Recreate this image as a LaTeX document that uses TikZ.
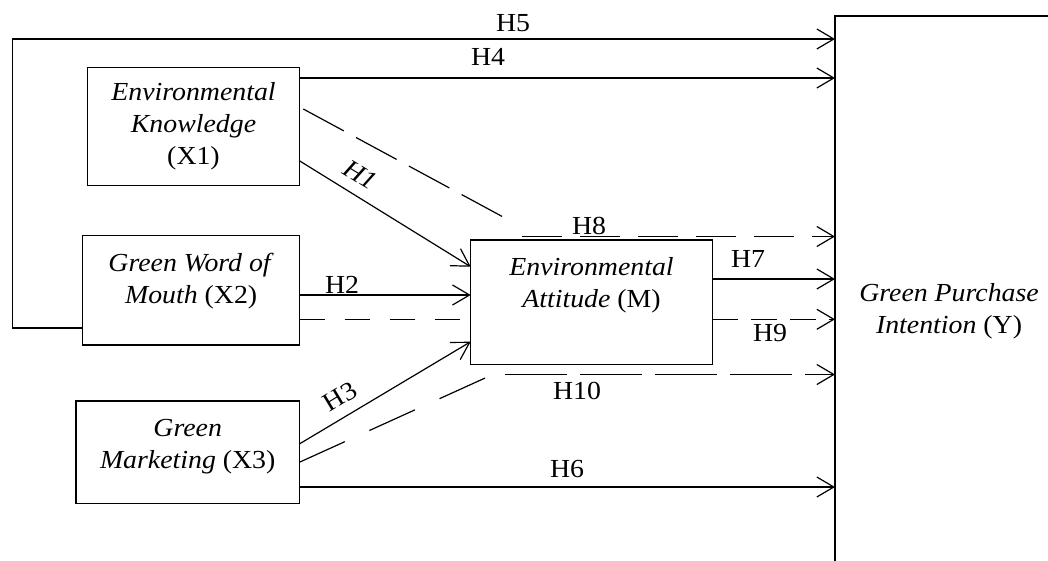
\documentclass[tikz,border=0pt]{standalone}
\usepackage{fontspec}
\setmainfont[FakeStretch=1.07]{Liberation Serif}
\usetikzlibrary{arrows.meta}
\begin{document}
\begin{tikzpicture}[x=1pt,y=-1pt,
  every node/.style={font=\fontsize{26}{32}\selectfont},
  box/.style={draw, line width=1.2pt, inner sep=0pt, outer sep=0pt, rectangle},
  lbl/.style={align=center, inner sep=0pt},
  con/.style={line width=1.2pt},
  arr/.style={con, -{Straight Barb[length=17pt,width=20pt]}},
  dsh/.style={con, dash pattern=on 40pt off 18pt},
]
\clip (0,0) rectangle (1048,560);
% boxes
\node[box, align=center, minimum width=211.6pt, minimum height=117.6pt] (X1) at (193.5,126.5)
  {\textit{Environmental}\\\textit{Knowledge}\\(X1)};
\node[box, minimum width=217pt, minimum height=109.3pt] (X2) at (191.2,290.35) {};
\node[lbl] (X2t) at (191.2,281) {\textit{Green Word of}\\\textit{Mouth} (X2)};
\node[box, minimum width=223.3pt, minimum height=102.7pt] (X3) at (187.65,452.35) {};
\node[lbl] (X3t) at (187.7,447) {\textit{Green}\\\textit{Marketing} (X3)};
\node[box, minimum width=241.6pt, minimum height=124.7pt] (M) at (591.5,302.35) {};
\node[lbl] (Mt) at (591.5,285.3) {\textit{Environmental}\\\textit{Attitude} (M)};
\node[box, align=center, anchor=north west, minimum width=228pt, minimum height=591.4pt] (Y) at (835,16)
  {\textit{Green Purchase}\\\textit{Intention} (Y)};
% H5
\draw[arr] ([yshift=-37.6pt]X2.west) -- ++(-70.4,0) |- ([yshift=-23pt]Y.north west);
% H4
\draw[arr] ([yshift=-10.3pt]X1.north east) -- ([yshift=-62pt]Y.north west);
% H1
\draw[arr] ([yshift=-34.2pt]X1.east) -- ([yshift=35.6pt]M.west);
% H8
\coordinate (k1) at (505,218);
\draw[con, dash pattern=on 46pt off 14pt] ([xshift=4pt,yshift=17.5pt]X1.east) -- (k1);
\coordinate (k8) at (522,236.5);
\draw[dsh,arr] (k8) -- (k8 -| Y.west);
% H2 and mediated X2
\draw[arr] ([yshift=-4.65pt]X2.east) coordinate (a2) -- (a2 -| M.west);
\draw[con, dash pattern=on 25pt off 20pt] ([yshift=-28.95pt]X2.east) coordinate (d2) -- (d2 -| M.west);
% H3
\draw[arr] ([yshift=8.35pt]X3.east) -- ([yshift=-39.35pt]M.west);
% H10
\coordinate (k3) at (488,376.7);
\draw[con, dash pattern=on 50pt off 27pt] ([yshift=-9.95pt]X3.east) -- (k3);
\coordinate (k10) at (505,374.5);
\draw[con, arr, dash pattern=on 62pt off 13pt] (k10) -- (k10 -| Y.west);
% H6
\draw[arr] ([yshift=-34.65pt]X3.east) coordinate (a6) -- (a6 -| Y.west);
% H7
\draw[arr] ([yshift=23.35pt]M.east) coordinate (a7) -- (a7 -| Y.west);
% H9
\draw[con, arr, dash pattern=on 26pt off 13pt] ([yshift=-16.95pt]M.east) coordinate (a9) -- (a9 -| Y.west);
% labels
\node[lbl] (lH5) at (513,23) {H5};
\node[lbl] (lH4) at (488,57) {H4};
\node[lbl, rotate=-31] (lH1) at (360,175) {\textit{H1}};
\node[lbl] (lH2) at (342,285) {H2};
\node[lbl, rotate=31] (lH3) at (340,396.5) {H3};
\node[lbl] (lH8) at (589,226) {H8};
\node[lbl] (lH7) at (748,259) {H7};
\node[lbl] (lH9) at (770,333.4) {H9};
\node[lbl] (lH10) at (577,391) {H10};
\node[lbl] (lH6) at (567,469) {H6};
\end{tikzpicture}
\end{document}
